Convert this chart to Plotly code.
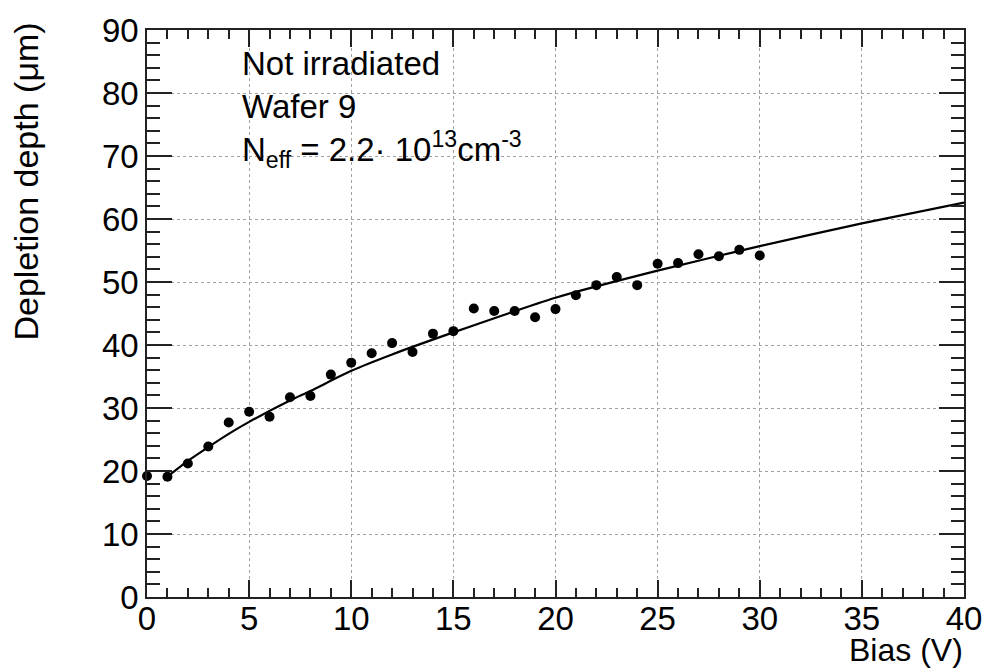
import plotly.graph_objects as go

# Measured data points
bias = list(range(0, 31))
depth = [19.2, 19.1, 21.2, 23.9, 27.7, 29.4, 28.6, 31.7, 31.9, 35.3,
         37.2, 38.7, 40.3, 38.9, 41.8, 42.2, 45.8, 45.4, 45.4, 44.4,
         45.7, 47.9, 49.5, 50.8, 49.5, 52.9, 53.0, 54.4, 54.1, 55.1, 54.2]

# Fit curve
fit_bias = [1, 2, 3, 4, 5, 7, 8, 10, 12, 15, 20, 25, 30, 35, 40]
fit_depth = [19.1, 21.6, 23.8, 25.9, 27.8, 31.2, 32.7, 35.9, 38.5, 42.0,
             47.5, 51.8, 55.7, 59.3, 62.6]

x_ticks = [0, 5, 10, 15, 20, 25, 30, 35, 40]
y_ticks = [0, 10, 20, 30, 40, 50, 60, 70, 80, 90]

FONT = "Liberation Sans, Arial, Helvetica, sans-serif"
FS = 33

fig = go.Figure()
fig.add_trace(go.Scatter(x=fit_bias, y=fit_depth, mode="lines",
                         line=dict(color="black", width=2.2, shape="spline", smoothing=0.6),
                         showlegend=False))
fig.add_trace(go.Scatter(x=bias, y=depth, mode="markers",
                         marker=dict(color="black", size=10),
                         cliponaxis=False, showlegend=False))

axis_common = dict(
    showline=True, linecolor="#222222", linewidth=1.5, mirror="allticks",
    ticks="inside", tickcolor="#222222", tickwidth=1.5,
    showgrid=True, gridcolor="#a0a0a0", griddash="dot", gridwidth=1,
    zeroline=False,
    tickfont=dict(family=FONT, size=FS, color="black"),
)

fig.update_xaxes(range=[0, 40], tickmode="array", tickvals=x_ticks,
                 ticktext=[str(v) for v in x_ticks], ticklen=17,
                 ticklabelstandoff=-8,
                 minor=dict(dtick=1, ticks="inside", ticklen=9, tickcolor="#222222",
                            tickwidth=1.5, showgrid=False),
                 **axis_common)
fig.update_yaxes(range=[0, 90], tickmode="array", tickvals=y_ticks,
                 ticktext=[str(v) for v in y_ticks], ticklen=25,
                 minor=dict(dtick=2, ticks="inside", ticklen=13, tickcolor="#222222",
                            tickwidth=1.5, showgrid=False),
                 **axis_common)

annots = [
    dict(text="Not irradiated", x=4.55, y=84.7),
    dict(text="Wafer 9", x=4.55, y=77.9),
    dict(text="N<sub>eff</sub> = 2.2· 10<sup>13</sup>cm<sup>-3</sup>", x=4.55, y=71.1),
]
for a in annots:
    fig.add_annotation(text=a["text"], x=a["x"], y=a["y"], xref="x", yref="y",
                       xanchor="left", yanchor="middle", showarrow=False,
                       font=dict(family=FONT, size=FS, color="black"))

fig.add_annotation(text="Bias (V)", x=1.0, y=(596.7 - 670) / 574, xref="paper", yref="paper",
                   xanchor="right", yanchor="bottom", showarrow=False, borderpad=0,
                   font=dict(family=FONT, size=32, color="black"))
fig.add_annotation(text="Depletion depth (μm)", x=(25 - 147.3) / 823.4, y=(596.7 - 176.5) / 574,
                   xref="paper", yref="paper", textangle=-90,
                   xanchor="center", yanchor="middle", showarrow=False,
                   font=dict(family=FONT, size=34, color="black"))

fig.update_layout(
    width=994, height=670,
    margin=dict(l=147, r=23, t=23, b=73, pad=0),
    paper_bgcolor="white", plot_bgcolor="white",
)

fig.write_html("out.html")
